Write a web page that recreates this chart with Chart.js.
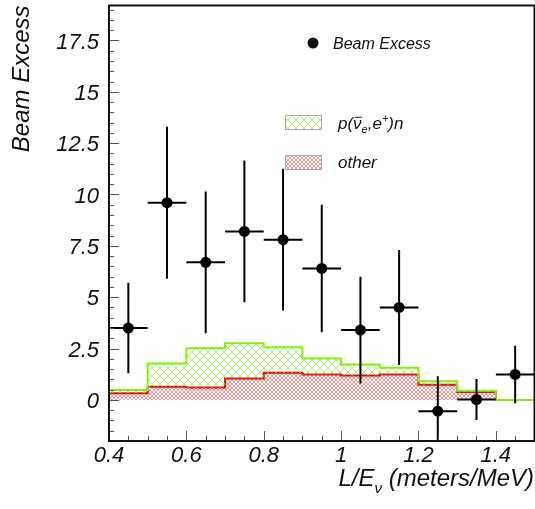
<!DOCTYPE html>
<html>
<head>
<meta charset="utf-8">
<script src="https://cdn.jsdelivr.net/npm/chart.js@4.4.0/dist/chart.umd.min.js"></script>
<style>
html, body { margin: 0; padding: 0; background: #fff; overflow: hidden; }
#wrap { width: 540px; height: 509px; position: relative; }
</style>
</head>
<body>
<div id="wrap"><canvas id="beamChart"></canvas></div>
<script>
// L/E bins (meters/MeV), width 0.1
var binEdges = [0.4, 0.5, 0.6, 0.7, 0.8, 0.9, 1.0, 1.1, 1.2, 1.3, 1.4, 1.5];
var binCenters = [0.45, 0.55, 0.65, 0.75, 0.85, 0.95, 1.05, 1.15, 1.25, 1.35, 1.45];
var beamExcess = [3.5, 9.6, 6.7, 8.2, 7.8, 6.4, 3.4, 4.5, -0.55, 0.02, 1.24];
var beamErr = [2.2, 3.7, 3.45, 3.45, 3.45, 3.1, 2.6, 2.8, 1.7, 1.0, 1.4];
// stacked expectation: "other" at the bottom, p(nubar_e,e+)n on top
var otherBg = [0.32, 0.64, 0.61, 1.04, 1.32, 1.24, 1.19, 1.24, 0.74, 0.38, 0.0];
var oscSignal = [0.16, 1.13, 1.91, 1.72, 1.24, 0.77, 0.53, 0.32, 0.17, 0.07, 0.0];
var xTickVals = [0.4, 0.6, 0.8, 1.0, 1.2, 1.4];
var yTickVals = [0, 2.5, 5, 7.5, 10, 12.5, 15, 17.5];

var FONT = "'Liberation Sans', Arial, Helvetica, sans-serif";
Chart.defaults.font.family = FONT;
Chart.defaults.font.style = 'italic';
Chart.defaults.color = '#111';

function hatch(color, size) {
    var c = document.createElement('canvas');
    c.width = size;
    c.height = size;
    var g = c.getContext('2d');
    g.strokeStyle = color;
    g.lineWidth = 1;
    g.beginPath();
    g.moveTo(0, 0); g.lineTo(size, size);
    g.moveTo(size, 0); g.lineTo(0, size);
    g.stroke();
    return g.createPattern(c, 'repeat');
}
var redHatch = hatch('rgba(238,80,80,0.6)', 4);
var greenHatch = hatch('rgba(125,235,60,0.7)', 8);

function stepData(vals) {
    var pts = [];
    for (var i = 0; i < vals.length; i++) {
        pts.push({ x: binEdges[i], y: vals[i] });
    }
    pts.push({ x: binEdges[binEdges.length - 1], y: vals[vals.length - 1] });
    return pts;
}

var totalExp = otherBg.map(function (v, i) { return v + oscSignal[i]; });

var errData = [];
var pointData = [];
binCenters.forEach(function (x, i) {
    var y = beamExcess[i], e = beamErr[i];
    pointData.push({ x: x, y: y });
    errData.push({ x: x, y: y - e }, { x: x, y: y + e }, { x: x, y: null });
    errData.push({ x: x - 0.05, y: y }, { x: x + 0.05, y: y }, { x: x + 0.05, y: null });
});

// draws a run of text pieces (sub/superscripts) on one baseline
function richText(ctx, parts, x, y, alignRight) {
    var w = 0;
    parts.forEach(function (p) {
        ctx.font = 'italic ' + p.s + 'px ' + FONT;
        p.w = ctx.measureText(p.t).width;
        w += p.w;
    });
    var cx = alignRight ? x - w : x;
    ctx.textAlign = 'left';
    ctx.textBaseline = 'alphabetic';
    parts.forEach(function (p) {
        ctx.font = 'italic ' + p.s + 'px ' + FONT;
        ctx.fillText(p.t, cx, y + (p.dy || 0));
        if (p.bar) {
            ctx.fillRect(cx + 2, y - p.s * 0.72, p.w - 2, 1);
        }
        cx += p.w;
    });
}

var rootFrame = {
    id: 'rootFrame',
    afterDraw: function (chart) {
        var ctx = chart.ctx, a = chart.chartArea;
        var xs = chart.scales.x, ys = chart.scales.y;
        ctx.save();
        ctx.strokeStyle = '#555';
        ctx.lineWidth = 1;
        ctx.beginPath();
        var v, px;
        for (v = -2; v <= 19.2; v += 0.5) {
            px = Math.round(ys.getPixelForValue(v)) + 0.5;
            var major = Math.abs(v / 2.5 - Math.round(v / 2.5)) < 1e-6;
            ctx.moveTo(a.left, px);
            ctx.lineTo(a.left + (major ? 10 : 5), px);
        }
        for (v = 0.4; v <= 1.5001; v += 0.05) {
            px = Math.round(xs.getPixelForValue(v)) + 0.5;
            var majorX = Math.abs((v - 0.4) / 0.2 - Math.round((v - 0.4) / 0.2)) < 1e-6;
            ctx.moveTo(px, a.bottom);
            ctx.lineTo(px, a.bottom - (majorX ? 10 : 5));
        }
        ctx.stroke();

        ctx.strokeStyle = '#111';
        ctx.lineWidth = 2;
        ctx.strokeRect(a.left, a.top, a.right - a.left, a.bottom - a.top);

        // x axis title with subscript nu
        ctx.fillStyle = '#111';
        richText(ctx, [
            { t: 'L/E', s: 24 },
            { t: '\u03BD', s: 15, dy: 7 },
            { t: ' (meters/MeV)', s: 24 }
        ], 534, 486, true);

        // legend
        ctx.beginPath();
        ctx.arc(313, 43, 5.5, 0, Math.PI * 2);
        ctx.fill();
        richText(ctx, [{ t: 'Beam Excess', s: 16 }], 333, 49, false);

        ctx.lineWidth = 1;
        ctx.strokeStyle = '#aaa';
        ctx.fillStyle = greenHatch;
        ctx.fillRect(285, 115, 37, 15);
        ctx.strokeRect(285.5, 115.5, 36, 14);
        ctx.fillStyle = redHatch;
        ctx.fillRect(285, 155, 37, 15);
        ctx.strokeRect(285.5, 155.5, 36, 14);

        ctx.fillStyle = '#111';
        richText(ctx, [
            { t: 'p(', s: 17 },
            { t: '\u03BD', s: 17, bar: true },
            { t: 'e', s: 11, dy: 4 },
            { t: ',', s: 17 },
            { t: 'e', s: 17 },
            { t: '+', s: 11, dy: -7 },
            { t: ')n', s: 17 }
        ], 338, 129, false);
        richText(ctx, [{ t: 'other', s: 17 }], 338, 168, false);
        ctx.restore();
    }
};

var ctx = document.getElementById('beamChart').getContext('2d');
var chart = new Chart(ctx, {
    type: 'line',
    data: {
        datasets: [
            {
                label: 'Beam Excess',
                data: pointData,
                showLine: false,
                pointRadius: 5.5,
                pointBackgroundColor: '#000',
                pointBorderWidth: 0,
                order: 0
            },
            {
                label: 'errors',
                data: errData,
                borderColor: '#000',
                borderWidth: 2,
                pointRadius: 0,
                spanGaps: false,
                order: 1
            },
            {
                label: 'p(nubar_e,e+)n',
                data: stepData(totalExp),
                stepped: 'before',
                borderColor: '#84ee10',
                borderWidth: 2,
                pointRadius: 0,
                backgroundColor: greenHatch,
                fill: 3,
                order: 2
            },
            {
                label: 'other',
                data: stepData(otherBg),
                stepped: 'before',
                borderColor: '#e01010',
                borderWidth: 2,
                pointRadius: 0,
                backgroundColor: redHatch,
                fill: 'origin',
                order: 3
            }
        ]
    },
    options: {
        responsive: true,
        maintainAspectRatio: false,
        animation: false,
        events: [],
        layout: { padding: { top: 5, right: 4, left: 0, bottom: 0 } },
        plugins: {
            legend: { display: false },
            tooltip: { enabled: false }
        },
        scales: {
            x: {
                type: 'linear',
                min: 0.4,
                max: 1.5,
                afterBuildTicks: function (s) {
                    s.ticks = xTickVals.map(function (v) { return { value: v }; });
                },
                afterFit: function (s) {
                    s.height = 68;
                    s.paddingLeft = 0;
                    s.paddingRight = 0;
                },
                grid: { display: false, drawTicks: false },
                border: { display: false },
                ticks: {
                    font: { size: 22, style: 'italic' },
                    padding: 2,
                    maxRotation: 0,
                    autoSkip: false,
                    callback: function (v) { return String(+v.toFixed(2)); }
                }
            },
            y: {
                min: -2,
                max: 19.2,
                afterBuildTicks: function (s) {
                    s.ticks = yTickVals.map(function (v) { return { value: v }; });
                },
                afterFit: function (s) {
                    s.width = 109;
                    s.paddingTop = 0;
                    s.paddingBottom = 0;
                },
                grid: { display: false, drawTicks: false },
                border: { display: false },
                ticks: {
                    font: { size: 22, style: 'italic' },
                    padding: 10,
                    labelOffset: 2,
                    autoSkip: false,
                    callback: function (v) { return String(v); }
                },
                title: {
                    display: true,
                    text: 'Beam Excess',
                    align: 'end',
                    font: { size: 24, style: 'italic' },
                    padding: { top: 8, bottom: 0 }
                }
            }
        }
    },
    plugins: [rootFrame]
});
</script>
</body>
</html>
